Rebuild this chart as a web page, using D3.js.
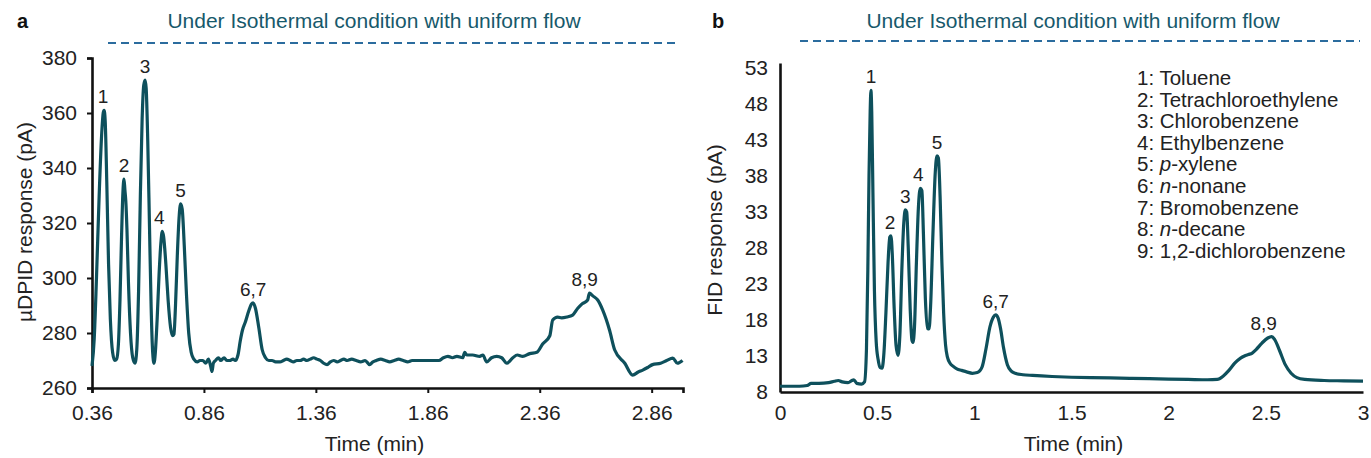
<!DOCTYPE html>
<html>
<head>
<meta charset="utf-8">
<script src="https://cdn.jsdelivr.net/npm/d3@7"></script>
<style>
  body { margin: 0; background: #fff; }
  text { font-family: "Liberation Sans", Arial, sans-serif; }
</style>
</head>
<body>
<script>
// panel a : uDPID chromatogram (time in min, response in pA)
var timeA = [0.360, 0.370, 0.380, 0.392, 0.403, 0.410, 0.414, 0.419, 0.426, 0.434, 0.442, 0.452, 0.462,
  0.470, 0.478, 0.485, 0.492, 0.498, 0.503, 0.507, 0.511, 0.516, 0.523, 0.532, 0.542, 0.552,
  0.560, 0.568, 0.576, 0.584, 0.591, 0.597, 0.602, 0.609, 0.617, 0.624, 0.631, 0.637,
  0.643, 0.651, 0.660, 0.668, 0.674, 0.680, 0.690, 0.700, 0.711, 0.720, 0.726,
  0.733, 0.741, 0.749, 0.756, 0.763, 0.772, 0.782, 0.792, 0.803, 0.815, 0.830, 0.842,
  0.855, 0.868, 0.880, 0.890, 0.896, 0.902, 0.912, 0.925, 0.935, 0.950, 0.962, 0.975, 0.990, 1.000,
  1.012, 1.022, 1.032, 1.045, 1.060, 1.072, 1.080, 1.090, 1.105, 1.120, 1.135, 1.150,
  1.164, 1.180, 1.200, 1.215, 1.230, 1.245, 1.260, 1.275, 1.290, 1.305, 1.320, 1.335, 1.350,
  1.365, 1.380, 1.395, 1.410, 1.425, 1.440, 1.455, 1.470, 1.485, 1.500, 1.520, 1.540, 1.560,
  1.580, 1.600, 1.615, 1.630, 1.650, 1.670, 1.690, 1.710, 1.730, 1.750, 1.770, 1.790, 1.910,
  1.930, 1.950, 1.970, 1.990, 2.016, 2.025, 2.034, 2.060, 2.092, 2.106, 2.123, 2.145, 2.168,
  2.190, 2.213, 2.240, 2.260, 2.284, 2.315, 2.347, 2.373, 2.405, 2.418, 2.440, 2.458, 2.481,
  2.507, 2.530, 2.548, 2.574, 2.582, 2.597, 2.619, 2.641, 2.672, 2.695, 2.740, 2.775, 2.800,
  2.820, 2.845, 2.864, 2.900, 2.927, 2.954, 2.975, 2.998];
var valueA = [268, 278, 300, 330, 352, 360, 361, 357, 335, 305, 285, 273, 270,
  270.5, 276, 292, 315, 331, 336, 332, 328, 318, 298, 280, 271, 269,
  274, 295, 330, 358, 370, 372, 369, 350, 318, 290, 273, 269,
  273, 285, 302, 313, 317, 315, 305, 292, 282, 279, 279.5,
  290, 308, 322, 327, 325, 312, 294, 280, 273, 270.5, 269.5, 270,
  270, 269, 270.5, 268, 266, 269, 270, 271, 270, 271, 270, 270, 270.5, 270,
  272, 277, 281, 284, 288, 290.5, 291, 289, 282, 274, 271, 270,
  270, 269.5, 269.5, 270, 270.5, 270, 269.5, 270, 270, 270.5, 270, 270.5, 271,
  270.5, 270, 269, 268.5, 269.5, 270, 269.5, 270, 270.5, 270, 270.5, 270, 269.5,
  270, 268.5, 269.5, 270, 270.5, 270, 269.5, 270, 270.5, 270, 269.5, 270, 270,
  271, 271.5, 271, 271.5, 271, 273, 272, 272, 271.5, 272, 269.5, 271, 271.5, 271,
  269, 271, 272, 271.5, 272.5, 273, 276, 279, 284.7, 285.8, 285.5, 285.8, 286.5,
  289, 290.5, 292, 294.5, 293.5, 292, 288.4, 281, 273.8, 269, 264.7, 265.8, 266.5,
  267.6, 268.5, 269, 270, 270.9, 269, 270, 270.5];

// panel b : FID chromatogram
var timeB = [0, 0.05, 0.10, 0.14, 0.16, 0.20, 0.25, 0.28, 0.30, 0.32, 0.35, 0.37, 0.38, 0.395, 0.42, 0.435,
  0.445, 0.452, 0.458, 0.464, 0.468, 0.472, 0.478, 0.486, 0.495, 0.505, 0.515, 0.525,
  0.535, 0.545, 0.556, 0.565, 0.571, 0.578, 0.587, 0.597, 0.607,
  0.617, 0.627, 0.637, 0.645, 0.652, 0.660, 0.670, 0.679, 0.684,
  0.692, 0.702, 0.712, 0.722, 0.730, 0.738, 0.748, 0.760, 0.767,
  0.775, 0.787, 0.799, 0.808, 0.815, 0.824, 0.833, 0.842, 0.852, 0.862, 0.875, 0.890, 0.910,
  0.935, 0.960, 0.990, 1.015, 1.040, 1.060, 1.080, 1.098, 1.110, 1.122, 1.135, 1.150, 1.170,
  1.190, 1.210, 1.250, 1.300, 1.400, 1.500, 1.600, 1.700, 1.800, 1.900, 2.000, 2.100, 2.200,
  2.250, 2.280, 2.310, 2.340, 2.370, 2.390, 2.410, 2.430, 2.450, 2.480, 2.510, 2.530, 2.545,
  2.570, 2.600, 2.630, 2.660, 2.700, 2.800, 2.900, 3.000];
var valueB = [8.8, 8.8, 8.8, 8.9, 9.2, 9.2, 9.3, 9.5, 9.6, 9.4, 9.3, 9.6, 9.7, 9.2, 9.1, 9.4,
  14, 25, 38, 47, 49.9, 47, 36, 22, 15, 12.5, 11.4, 11.3,
  13.5, 19, 26, 29.5, 29.7, 27, 20, 14.5, 13.1,
  16, 25, 31.5, 33.3, 33, 28, 19.5, 15.2, 14.9,
  17, 26, 33.5, 36.3, 36, 30, 21, 16.8, 16.75,
  20, 30, 38.5, 40.8, 40.5, 35, 26, 19, 14.5, 12.8, 12.0, 11.6, 11.2,
  11.0, 10.8, 10.6, 10.7, 11.5, 14, 17, 18.4, 18.7, 18.3, 16.8, 14.2, 11.8,
  10.9, 10.6, 10.4, 10.3, 10.15, 10.05, 10.0, 9.95, 9.9, 9.85, 9.8, 9.75, 9.7,
  9.75, 10.2, 11.0, 12.0, 12.7, 13.0, 13.2, 13.4, 13.9, 14.8, 15.5, 15.7, 15.3,
  13.8, 11.8, 10.6, 10.0, 9.75, 9.6, 9.55, 9.5];

var ticksA_x = [0.36, 0.86, 1.36, 1.86, 2.36, 2.86];
var ticksA_y = [260, 280, 300, 320, 340, 360, 380];
var ticksB_x = [0, 0.5, 1, 1.5, 2, 2.5, 3];
var ticksB_y = [8, 13, 18, 23, 28, 33, 38, 43, 48, 53];

var peaksA = ["1", "2", "3", "4", "5", "6,7", "8,9"];
var peakTimeA = [0.414, 0.503, 0.597, 0.674, 0.756, 1.080, 2.574];
var peakValA = [361, 336, 372, 317, 327, 291, 294.5];
var peaksB = ["1", "2", "3", "4", "5", "6,7", "8,9"];
var peakTimeB = [0.468, 0.571, 0.645, 0.722, 0.808, 1.110, 2.530];
var peakValB = [49.9, 29.7, 33.3, 36.3, 40.8, 18.7, 15.7];

var legendNum = ["1", "2", "3", "4", "5", "6", "7", "8", "9"];
var legendPre = ["", "", "", "", "p", "n", "", "n", ""];
var legendName = ["Toluene", "Tetrachloroethylene", "Chlorobenzene", "Ethylbenzene", "-xylene",
  "-nonane", "Bromobenzene", "-decane", "1,2-dichlorobenzene"];

var title = "Under Isothermal condition with uniform flow";
var lineColor = "#0e505c";

var svg = d3.select("body").append("svg")
  .attr("width", 1371)
  .attr("height", 458);

function panel(opt) {
  var x = d3.scaleLinear().domain(opt.xd).range(opt.xr);
  var y = d3.scaleLinear().domain(opt.yd).range(opt.yr);
  var g = svg.append("g");

  var xAxis = d3.axisBottom(x).tickValues(opt.xt).tickSizeOuter(0)
    .tickSize(opt.tick).tickPadding(opt.xpad)
    .tickFormat(function(d) { return String(d); });
  var yAxis = d3.axisLeft(y).tickValues(opt.yt).tickSizeOuter(0)
    .tickSize(opt.tick).tickPadding(opt.ypad)
    .tickFormat(function(d) { return String(d); });

  var gx = g.append("g").attr("transform", "translate(0," + opt.yr[0] + ")").call(xAxis);
  var gy = g.append("g").attr("transform", "translate(" + opt.xr[0] + ",0)").call(yAxis);
  [gx, gy].forEach(function(a) {
    a.select(".domain").attr("stroke", "#111").attr("stroke-width", 2.6);
    a.selectAll(".tick line").attr("stroke", "#111").attr("stroke-width", 2);
    a.selectAll(".tick text").attr("fill", "#222").style("font-size", "21px")
      .style("font-family", "'Liberation Sans', Arial, sans-serif");
  });

  var line = d3.line()
    .x(function(d) { return x(d[0]); })
    .y(function(d) { return y(d[1]); })
    .curve(d3.curveMonotoneX);

  g.append("path")
    .datum(d3.zip(opt.t, opt.v))
    .attr("fill", "none")
    .attr("stroke", lineColor)
    .attr("stroke-width", 3.2)
    .attr("stroke-linejoin", "round")
    .attr("d", line);

  g.selectAll(".peak")
    .data(opt.peaks)
    .enter().append("text")
    .attr("class", "peak")
    .attr("x", function(d, i) { return x(opt.pt[i]) + (opt.pdx[i] || 0); })
    .attr("y", function(d, i) { return y(opt.pv[i]) - 7; })
    .attr("text-anchor", "middle")
    .attr("fill", "#222")
    .style("font-size", "19px")
    .text(function(d) { return d; });

  // axis title
  g.append("text")
    .attr("x", (opt.xr[0] + opt.xr[1]) / 2 + opt.xlabdx)
    .attr("y", 451)
    .attr("text-anchor", "middle")
    .attr("fill", "#222")
    .style("font-size", "21px")
    .text("Time (min)");

  g.append("text")
    .attr("transform", "translate(" + opt.ylabx + "," + opt.ylaby + ")rotate(-90)")
    .attr("text-anchor", "middle")
    .attr("fill", "#222")
    .style("font-size", "21px")
    .text(opt.ylab);

  // panel letter + condition banner
  g.append("text")
    .attr("x", opt.letterx)
    .attr("y", 28)
    .attr("fill", "#111")
    .style("font-size", "20px")
    .style("font-weight", "bold")
    .text(opt.letter);

  g.append("text")
    .attr("x", opt.titlex)
    .attr("y", 28)
    .attr("text-anchor", "middle")
    .attr("fill", "#17596b")
    .style("font-size", "21px")
    .text(title);

  g.append("line")
    .attr("x1", opt.dash[0]).attr("x2", opt.dash[1])
    .attr("y1", opt.dash[2]).attr("y2", opt.dash[2])
    .attr("stroke", "#2b6c9e")
    .attr("stroke-width", 2)
    .attr("stroke-dasharray", "8,5");

  return g;
}

panel({
  xd: [0.36, 3.0], xr: [92, 683],
  yd: [260, 380], yr: [388, 58],
  xt: ticksA_x, yt: ticksA_y,
  tick: 5, xpad: 12, ypad: 10,
  t: timeA, v: valueA,
  peaks: peaksA, pt: peakTimeA, pv: peakValA, pdx: [-1, 0, 0, -3, 0, 0, -3],
  xlabdx: -13, ylab: "\u00b5DPID response (pA)", ylabx: 32, ylaby: 222,
  letter: "a", letterx: 17, titlex: 374, dash: [108, 676, 43]
});

var gb = panel({
  xd: [0, 3], xr: [780, 1363],
  yd: [8, 53.7], yr: [392, 63],
  xt: ticksB_x, yt: ticksB_y,
  tick: 0, xpad: 13, ypad: 12,
  t: timeB, v: valueB,
  peaks: peaksB, pt: peakTimeB, pv: peakValB, pdx: [0, -1, 0, -2, 0, 0, -8],
  xlabdx: 2, ylab: "FID response (pA)", ylabx: 722, ylaby: 230,
  letter: "b", letterx: 712, titlex: 1073, dash: [800, 1360, 41]
});

// compound legend
var leg = gb.append("g").attr("transform", "translate(1137,85)");
var row = leg.selectAll("text")
  .data(legendName)
  .enter().append("text")
  .attr("x", 0)
  .attr("y", function(d, i) { return i * 21.6; })
  .attr("fill", "#222")
  .style("font-size", "20.5px");
row.append("tspan").text(function(d, i) { return legendNum[i] + ": "; });
row.append("tspan").style("font-style", "italic").text(function(d, i) { return legendPre[i]; });
row.append("tspan").text(function(d) { return d; });
</script>
</body>
</html>
